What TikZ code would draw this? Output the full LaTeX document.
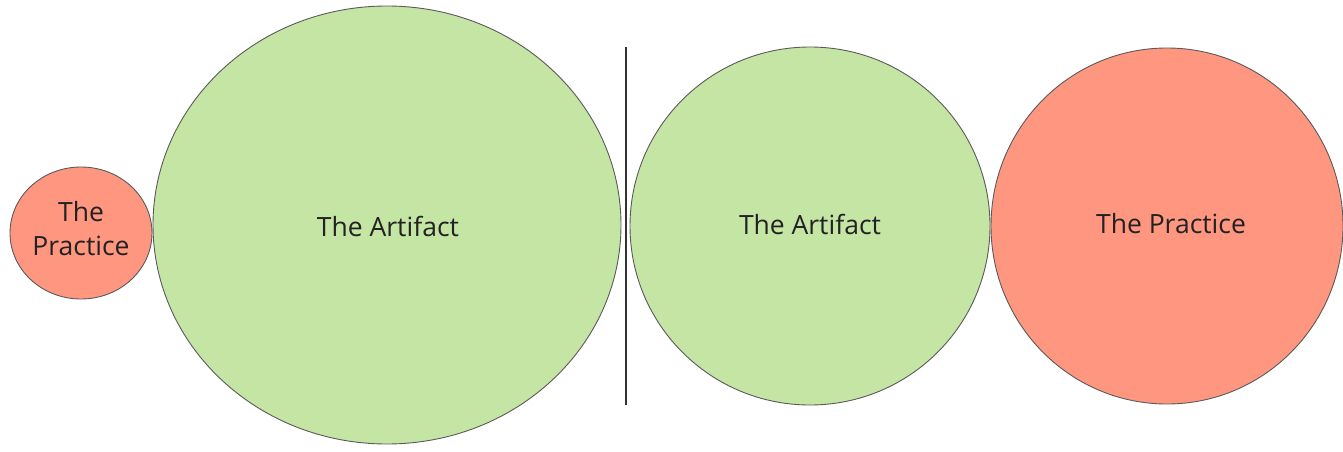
\documentclass[tikz,border=0pt]{standalone}
\usepackage{fontspec}
\setmainfont{Open Sans}
\usetikzlibrary{shapes.geometric}
\definecolor{artgreen}{HTML}{C5E5A5}
\definecolor{pracred}{HTML}{FF9680}
\definecolor{edgegray}{HTML}{5A5A5A}
\definecolor{txt}{HTML}{222222}
\tikzset{
  blob/.style={ellipse, draw=edgegray, line width=0.9pt, inner sep=0pt},
  every label/.style={text=txt, font=\fontsize{26.5}{34}\selectfont, align=center, inner sep=0pt},
  artifact/.style={blob, fill=artgreen},
  practice/.style={blob, fill=pracred},
  divider/.style={draw=black!80, line width=2pt}
}
\begin{document}
\begin{tikzpicture}[x=1pt,y=-1pt]
\useasboundingbox (0,0) rectangle (1343,452);
\node[practice, minimum width=142pt, minimum height=132pt,
  label={[yshift=4pt]center:The\\Practice}] (p1) at (81,233) {};
\node[artifact, minimum width=468pt, minimum height=438pt,
  label={[xshift=1pt,yshift=-1pt]center:The Artifact}] (a1) at (387,225) {};
\node[artifact, minimum width=360pt, minimum height=358pt,
  label={[yshift=2pt]center:The Artifact}] (a2) at (810,226) {};
\node[practice, minimum width=352pt, minimum height=356pt,
  label={[xshift=4pt,yshift=2pt]center:The Practice}] (p2) at (1167,226) {};
\coordinate (dtop) at (626,47);
\coordinate (dbot) at (626,405);
\draw[divider] (dtop) -- (dbot);
\end{tikzpicture}
\end{document}
